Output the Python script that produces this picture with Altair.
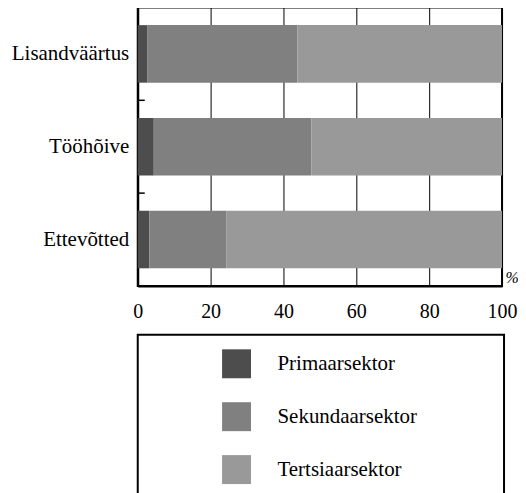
import altair as alt
import pandas as pd

categories = ["Lisandväärtus", "Tööhõive", "Ettevõtted"]
sectors = ["Primaarsektor", "Sekundaarsektor", "Tertsiaarsektor"]
primaar = [2.7, 4.4, 3.2]
sekundaar = [41.1, 43.3, 21.2]
tertsiaar = [56.2, 52.3, 75.6]
x_ticks = [0, 20, 40, 60, 80, 100]
colors = ["#4d4d4d", "#808080", "#999999"]

rows = []
for i, c in enumerate(categories):
    for j, (s, vals) in enumerate(zip(sectors, [primaar, sekundaar, tertsiaar])):
        rows.append({"kategooria": c, "sektor": s, "jrk": j, "osakaal": vals[i]})
df = pd.DataFrame(rows)
sep_df = pd.DataFrame({"kategooria": categories[:-1]})

FONT = "Liberation Serif"
W, H = 365, 279
P_INNER = 0.38
STEP = H / len(categories)

color_scale = alt.Scale(domain=sectors, range=colors)
y_scale = alt.Scale(domain=categories, paddingInner=P_INNER, paddingOuter=P_INNER / 2)

bars = alt.Chart(df).mark_bar().encode(
    x=alt.X(
        "osakaal:Q",
        stack="zero",
        scale=alt.Scale(domain=[0, 100], nice=False),
        axis=alt.Axis(
            values=x_ticks, grid=True, gridColor="black", gridWidth=1, gridOpacity=1,
            ticks=False, tickSize=0, labelPadding=16, labelFontSize=20, labelFont=FONT,
            labelFlush=False, labelColor="black", domainColor="black", domainWidth=2,
            title="%", titleFont=FONT, titleFontSize=16, titleFontStyle="italic",
            titleFontWeight="normal", titleColor="black", titleX=W + 3, titleY=0,
            titleAlign="left", titleBaseline="bottom", titleAngle=0,
        ),
    ),
    y=alt.Y(
        "kategooria:N", sort=categories, scale=y_scale,
        axis=alt.Axis(
            title=None, ticks=False, labelPadding=9, labelFont=FONT, labelFontSize=21,
            labelColor="black", domainColor="black", domainWidth=2, grid=False,
            minExtent=130, maxExtent=130,
        ),
    ),
    color=alt.Color("sektor:N", scale=color_scale, legend=None),
    order=alt.Order("jrk:Q"),
)

# short inward ticks on the category axis, at the boundary between bands
sep = alt.Chart(sep_df).mark_rule(color="black", strokeWidth=1.5, yOffset=STEP / 2).encode(
    y=alt.Y("kategooria:N", sort=categories, scale=y_scale, bandPosition=0.5),
    x=alt.value(0),
    x2=alt.value(7),
)

main = alt.layer(bars, sep).properties(width=W, height=H)

leg_df = pd.DataFrame({"sektor": sectors})
leg_y = alt.Y("sektor:N", sort=sectors, axis=None,
              scale=alt.Scale(type="point", range=[29, 135], padding=0))

squares = alt.Chart(leg_df).mark_square(size=841, opacity=1).encode(
    x=alt.value(99),
    y=leg_y,
    color=alt.Color("sektor:N", scale=color_scale, legend=None),
)
labels = alt.Chart(leg_df).mark_text(
    align="left", baseline="middle", font=FONT, fontSize=21, color="black"
).encode(x=alt.value(140), y=leg_y, text="sektor:N")

legend_panel = alt.layer(squares, labels).properties(width=367, height=170)

chart = (
    alt.vconcat(main, legend_panel, spacing=11)
    .configure_view(stroke="black", strokeWidth=2)
    .properties(padding={"left": -1, "top": -2, "right": -2, "bottom": 0}, background="white")
)

chart.save("out.html", embed_options={"renderer": "svg", "actions": False})
